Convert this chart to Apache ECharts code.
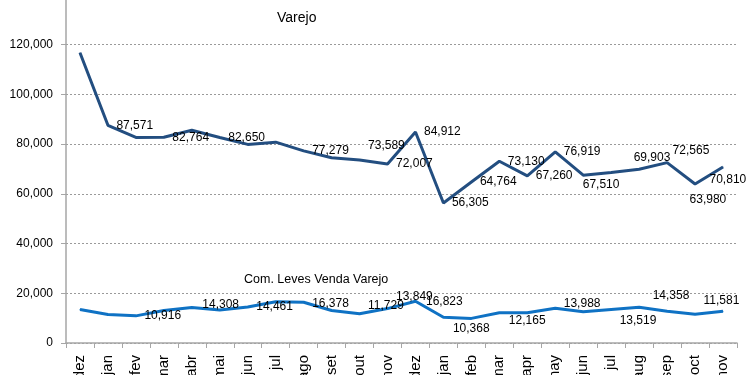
<!DOCTYPE html>
<html>
<head>
<meta charset="utf-8">
<script src="https://cdn.jsdelivr.net/npm/echarts@6/dist/echarts.min.js"></script>
<style>
html,body{margin:0;padding:0;background:#fff;}
#chart{width:750px;height:375px;}
</style>
</head>
<body>
<div id="chart"></div>
<script>
// ---- data ----
var categories = ['dez','jan','fev','mar','abr','mai','jun','jul','ago','set','out','nov',
                  'dez','jan','feb','mar','apr','may','jun','jul','aug','sep','oct','nov'];
var varejo = [116800, 87571, 82700, 82764, 85600, 82650, 79900, 80800, 77279, 74500, 73589, 72007,
              84912, 56305, 64764, 73130, 67260, 76919, 67510, 68600, 69903, 72565, 63980, 70810];
var comLeves = [13500, 11500, 10916, 13100, 14308, 13300, 14461, 16600, 16378, 13100, 11729, 13849,
                16823, 10368, 9900, 12165, 12150, 13988, 12600, 13519, 14358, 12800, 11581, 12800];
var varejoLabelled = [1, 3, 5, 8, 10, 11, 12, 13, 14, 15, 16, 17, 18, 20, 21, 22, 23];
var comLevesLabelled = [2, 4, 6, 8, 10, 11, 12, 13, 15, 17, 19, 20, 22];
var yTicks = [0, 20000, 40000, 60000, 80000, 100000, 120000, 140000];
var seriesNames = ['Varejo', 'Com. Leves Venda Varejo'];

// ---- label placement (style only) ----
var varejoOffsets = {10:[0,-14], 18:[-9,9], 20:[-14,-12], 21:[-3,-12], 22:[-14,16], 23:[-22,13]};
var comLevesOffsets = {4:[2,-3], 8:[0,1], 10:[0,-8], 11:[0,-12], 12:[2,1], 13:[1,11], 15:[1,8],
                       17:[0,-5], 19:[0,11], 20:[5,-12], 22:[0,-14]};

function fmt(v){ return Number(v).toLocaleString('en-US'); }

function buildData(values, labelled, offsets){
  return values.map(function(v, i){
    var show = labelled.indexOf(i) >= 0;
    return {
      value: v,
      label: {show: show, offset: offsets[i] || [0,0]}
    };
  });
}

var chart = echarts.init(document.getElementById('chart'), null, {renderer:'canvas'});
var FONT = 'Liberation Sans';
var option = {
  animation: false,
  backgroundColor: '#ffffff',
  title: [
    {text: seriesNames[0], left: 272, top: 6,
     textStyle:{fontFamily: FONT, fontSize: 14, fontWeight: 'normal', color:'#000'}},
    {text: seriesNames[1], left: 239, top: 268,
     textStyle:{fontFamily: FONT, fontSize: 12.5, fontWeight: 'normal', color:'#000'}}
  ],
  grid: {left: 66, right: 13, top: -5, bottom: 32, containLabel: false, outerBoundsMode: 'none'},
  xAxis: {
    type: 'category',
    data: categories,
    boundaryGap: true,
    axisLine: {show: true, lineStyle: {color: '#a6a6a6', width: 1.5}},
    axisTick: {show: true, length: 5, lineStyle: {color: '#a6a6a6', width: 1}},
    axisLabel: {rotate: 90, margin: 12, fontFamily: FONT, fontSize: 15, color: '#000', interval: 0},
    splitLine: {show: false}
  },
  yAxis: {
    type: 'value',
    min: yTicks[0],
    max: yTicks[yTicks.length-1],
    interval: yTicks[1] - yTicks[0],
    axisLine: {show: true, lineStyle: {color: '#a6a6a6', width: 1.5}},
    axisTick: {show: true, length: 5, lineStyle: {color: '#a6a6a6', width: 1}},
    axisLabel: {margin: 13, fontFamily: FONT, fontSize: 12, color: '#000', formatter: fmt},
    splitLine: {show: true, lineStyle: {color: '#9a9a9a', width: 1, type: [2, 2]}}
  },
  series: [
    {
      name: seriesNames[0],
      type: 'line',
      data: buildData(varejo, varejoLabelled, varejoOffsets),
      symbol: 'circle',
      symbolSize: 1,
      showSymbol: true,
      itemStyle: {color: '#234e80'},
      lineStyle: {color: '#234e80', width: 3},
      label: {position: 'right', distance: 8, fontFamily: FONT, fontSize: 12, color: '#000',
              formatter: function(p){ return fmt(p.value); }},
      z: 3
    },
    {
      name: seriesNames[1],
      type: 'line',
      data: buildData(comLeves, comLevesLabelled, comLevesOffsets),
      symbol: 'circle',
      symbolSize: 1,
      showSymbol: true,
      itemStyle: {color: '#0f72c4'},
      lineStyle: {color: '#0f72c4', width: 3},
      label: {position: 'right', distance: 8, fontFamily: FONT, fontSize: 12, color: '#000',
              formatter: function(p){ return fmt(p.value); }},
      z: 3
    }
  ]
};
chart.setOption(option);
</script>
</body>
</html>
